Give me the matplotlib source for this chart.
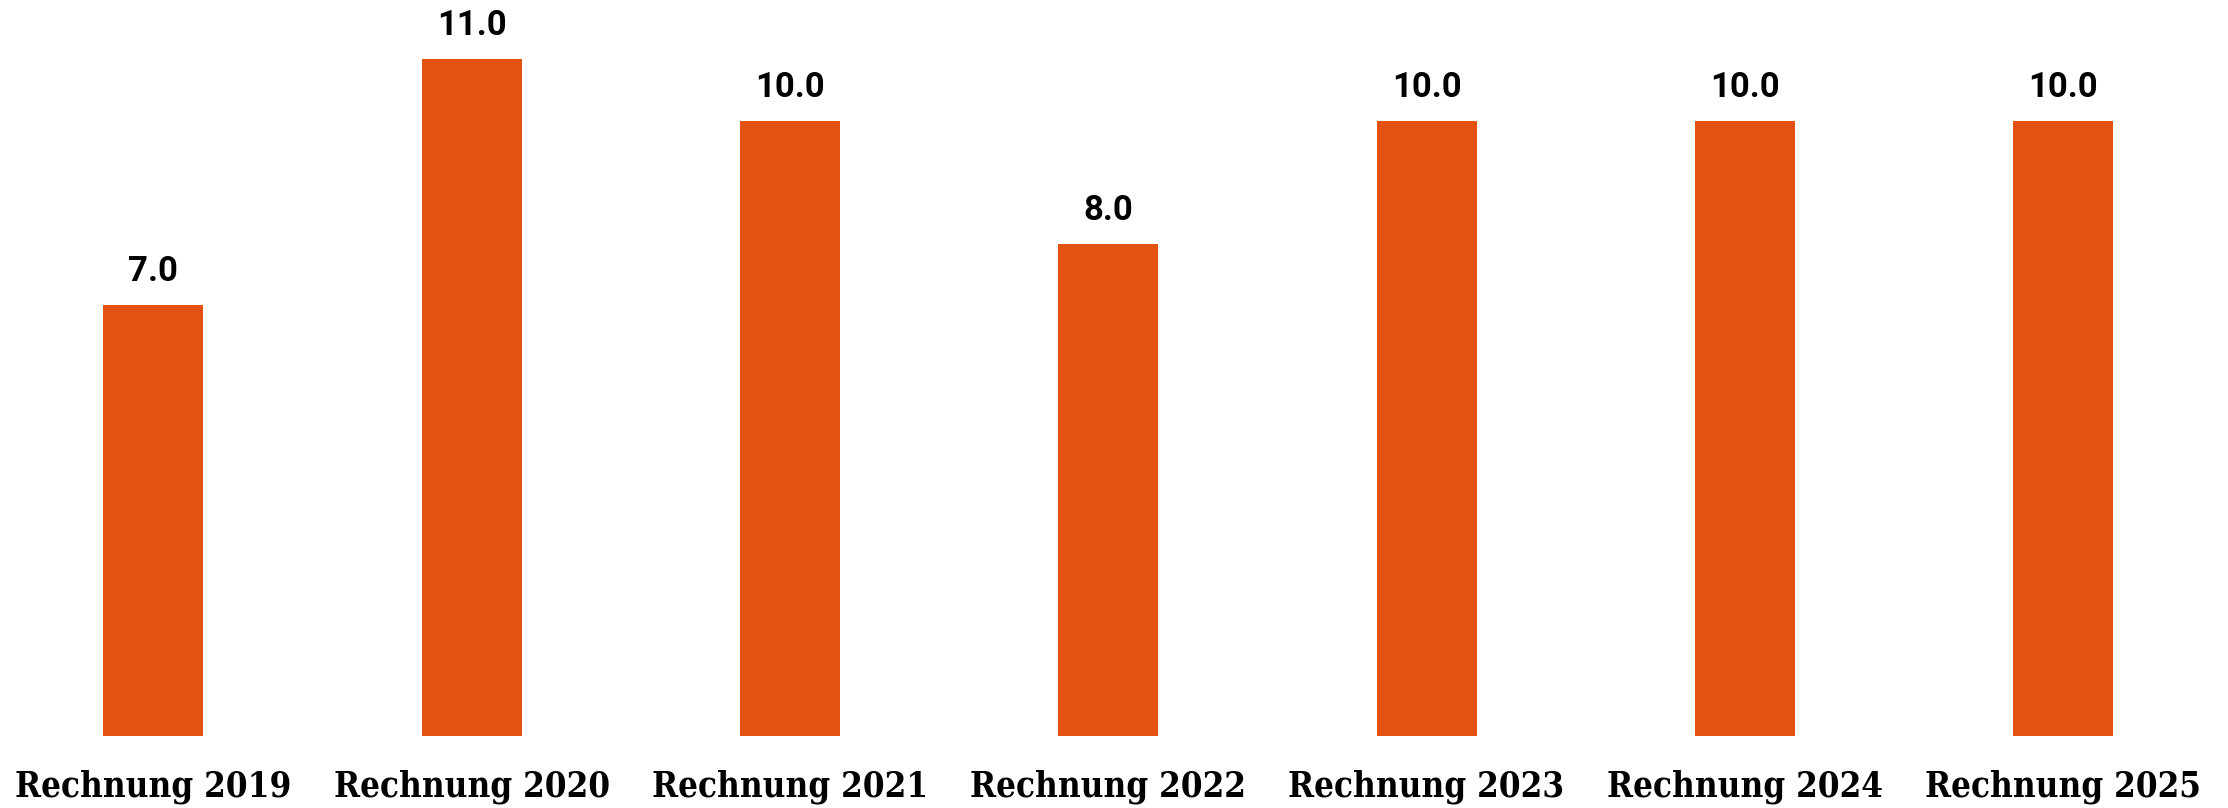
import matplotlib
matplotlib.use("Agg")
import matplotlib.pyplot as plt

categories = ["Rechnung 2019", "Rechnung 2020", "Rechnung 2021", "Rechnung 2022",
              "Rechnung 2023", "Rechnung 2024", "Rechnung 2025"]
values = [7.0, 11.0, 10.0, 8.0, 10.0, 10.0, 10.0]

bar_color = "#e3530f"

fig = plt.figure(figsize=(22.28, 8.08), dpi=100)
ax = fig.add_axes([0, 0.0895, 1, 0.9105])

x = list(range(len(categories)))
bars = ax.bar(x, values, width=0.314, color=bar_color)

for b, v in zip(bars, values):
    ax.annotate(f"{v:.1f}", xy=(b.get_x() + b.get_width() / 2, v),
                xytext=(0, 12), textcoords="offset points",
                ha="center", va="bottom", fontsize=25, fontweight="bold",
                family="Roboto", color="black")

ax.set_xlim(-0.482, 6.518)
ax.set_ylim(0, 11.96)
ax.set_xticks(x)
ax.set_xticklabels(categories, fontsize=25, fontweight="bold",
                   family="DejaVu Serif", fontstretch="condensed")
ax.tick_params(axis="x", length=0, pad=24)
ax.set_yticks([])
for s in ax.spines.values():
    s.set_visible(False)

fig.savefig("out.png", dpi=100)
